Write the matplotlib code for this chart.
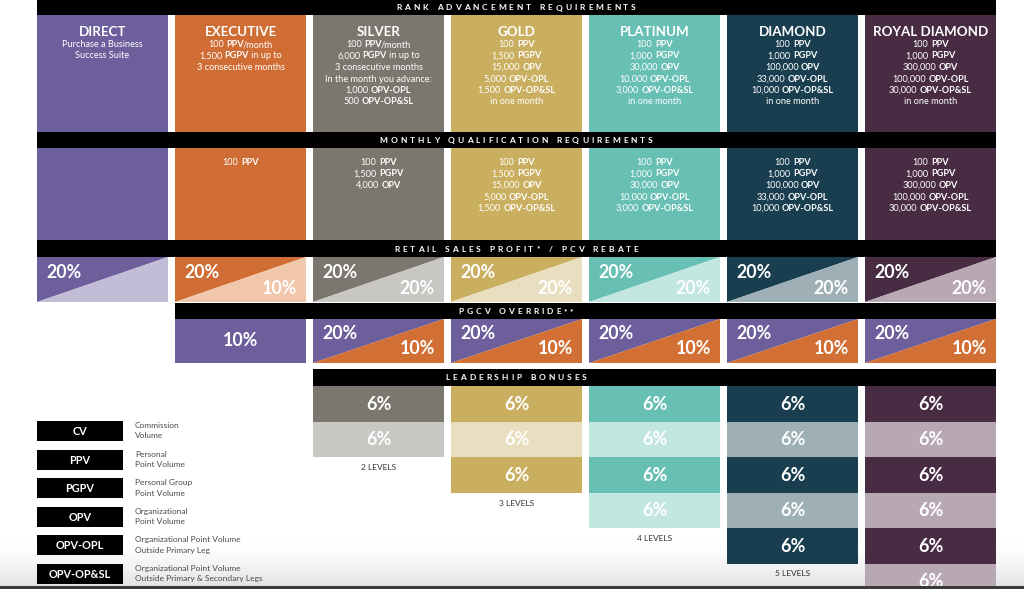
import re
import numpy as np
import matplotlib
matplotlib.use("Agg")
import matplotlib.pyplot as plt
from matplotlib.patches import Rectangle, Polygon

plt.rcParams['font.family'] = ['Lato', 'DejaVu Sans']

# ---------------- data ----------------
ranks = ["DIRECT", "EXECUTIVE", "SILVER", "GOLD", "PLATINUM", "DIAMOND", "ROYAL DIAMOND"]
dark_colors = ["#6C5F9C", "#D06D34", "#7B776F", "#C9AF5F", "#68BFB3", "#193E4F", "#482C43"]
light_colors = ["#C2BCD7", "#F0C7AA", "#C9C7C3", "#E9DFC0", "#C2E6E0", "#9EB0B6", "#B8A8B4"]
pgcv_top_color = "#6C5F9C"
pgcv_bottom_color = "#D26F35"

rank_requirements = [
    ["Purchase a Business", "Success Suite"],
    ["100 *PPV*/month", "1,500 *PGPV* in up to", "3 consecutive months"],
    ["100 *PPV*/month", "6,000 *PGPV* in up to", "3 consecutive months",
     "In the month you advance:", "1,000 *OPV-OPL*", "500 *OPV-OP&SL*"],
    ["100 *PPV*", "1,500 *PGPV*", "15,000 *OPV*", "5,000 *OPV-OPL*", "1,500 *OPV-OP&SL*", "in one month"],
    ["100 *PPV*", "1,000 *PGPV*", "30,000 *OPV*", "10,000 *OPV-OPL*", "3,000 *OPV-OP&SL*", "in one month"],
    ["100 *PPV*", "1,000 *PGPV*", "100,000 *OPV*", "33,000 *OPV-OPL*", "10,000 *OPV-OP&SL*", "in one month"],
    ["100 *PPV*", "1,000 *PGPV*", "300,000 *OPV*", "100,000 *OPV-OPL*", "30,000 *OPV-OP&SL*", "in one month"],
]
monthly_requirements = [
    [],
    ["100 *PPV*"],
    ["100 *PPV*", "1,500 *PGPV*", "4,000 *OPV*"],
    ["100 *PPV*", "1,500 *PGPV*", "15,000 *OPV*", "5,000 *OPV-OPL*", "1,500 *OPV-OP&SL*"],
    ["100 *PPV*", "1,000 *PGPV*", "30,000 *OPV*", "10,000 *OPV-OPL*", "3,000 *OPV-OP&SL*"],
    ["100 *PPV*", "1,000 *PGPV*", "100,000 *OPV*", "33,000 *OPV-OPL*", "10,000 *OPV-OP&SL*"],
    ["100 *PPV*", "1,000 *PGPV*", "300,000 *OPV*", "100,000 *OPV-OPL*", "30,000 *OPV-OP&SL*"],
]
retail_profit = [20, 20, 20, 20, 20, 20, 20]
pcv_rebate = [None, 10, 20, 20, 20, 20, 20]
pgcv_first = [None, 10, 20, 20, 20, 20, 20]
pgcv_second = [None, None, 10, 10, 10, 10, 10]
leadership_levels = [0, 0, 2, 3, 4, 5, 6]
leadership_pct = 6
level_labels = [None, None, "2 LEVELS", "3 LEVELS", "4 LEVELS", "5 LEVELS", None]

section_titles = ["RANK ADVANCEMENT REQUIREMENTS", "MONTHLY QUALIFICATION REQUIREMENTS",
                  "RETAIL SALES PROFIT* / PCV REBATE", "PGCV OVERRIDE**", "LEADERSHIP BONUSES"]

legend_abbr = ["CV", "PPV", "PGPV", "OPV", "OPV-OPL", "OPV-OP&SL"]
legend_desc = [("Commission", "Volume"), ("Personal", "Point Volume"),
               ("Personal Group", "Point Volume"), ("Organizational", "Point Volume"),
               ("Organizational Point Volume", "Outside Primary Leg"),
               ("Organizational Point Volume", "Outside Primary & Secondary Legs")]

# ---------------- layout ----------------
W, H = 1024, 589
X0, PITCH, COLW = 37, 138, 131
RIGHT = X0 + 6 * PITCH + COLW
PAGE_CX = 516

fig = plt.figure(figsize=(W / 100, H / 100), dpi=100)
ax = fig.add_axes([0, 0, 1, 1])
ax.set_xlim(0, W)
ax.set_ylim(H, 0)
ax.axis('off')
renderer = fig.canvas.get_renderer()

_cache = {}


def measure(s, size, weight):
    key = (s, size, weight)
    if key not in _cache:
        t = ax.text(0, 0, s, fontsize=size, fontweight=weight)
        _cache[key] = t.get_window_extent(renderer).width
        t.remove()
    return _cache[key]


def advance(s, size, weight):
    return measure("x" + s + "x", size, weight) - measure("xx", size, weight)


def col_x(i):
    return X0 + i * PITCH


def rich_line(xc, y, s, size, color='white'):
    parts = [p for p in re.split(r'(\*[^*]+\*)', s) if p]
    sp = advance(" ", size, 'normal')
    items = []
    total = 0
    for p in parts:
        bold = p.startswith('*')
        txt = p.strip('*')
        wgt = 'bold' if bold else 'normal'
        if txt.startswith(' '):
            total += sp
        core = txt.strip()
        if core:
            if core.startswith('/'):
                total -= 1.2
            items.append((total, core, wgt))
            total += advance(core, size, wgt)
        if txt.endswith(' '):
            total += sp
    x = xc - total / 2
    for off, txt, wgt in items:
        ax.text(x + off, y, txt, fontsize=size, fontweight=wgt, color=color,
                ha='left', va='center', zorder=4)


def tracked(xc, y, s, size, track, color='white', weight='bold'):
    widths = []
    for ch in s:
        if ch == ' ':
            widths.append(size * 0.5 + track)
        else:
            widths.append(advance(ch, size, weight) + track)
    total = sum(widths) - track
    x = xc - total / 2
    for ch, w in zip(s, widths):
        if ch != ' ':
            ax.text(x, y, ch, fontsize=size, color=color, ha='left', va='center',
                    fontweight=weight, zorder=4)
        x += w


def header(x1, y1, y2, title):
    ax.add_patch(Rectangle((x1, y1), RIGHT - x1, y2 - y1, color='black', lw=0, zorder=2))
    tracked(PAGE_CX, (y1 + y2) / 2 + 0.5, title, 6.0, 2.9)


# bottom screenshot fade (behind content)
grad = np.zeros((60, 2, 4))
a = np.linspace(0, 1, 60) ** 1.6
grad[..., :3] = 0.86
grad[..., 3] = (a * 0.8)[:, None]
ax.imshow(grad, extent=(0, W, 586, 540), aspect='auto', zorder=0, interpolation='bilinear')

# section 1: rank advancement
header(X0, 0, 15, section_titles[0])
for i, name in enumerate(ranks):
    x = col_x(i)
    ax.add_patch(Rectangle((x, 15), COLW, 117, color=dark_colors[i], lw=0, zorder=2))
    ax.text(x + COLW / 2, 32, name, fontsize=9.6, fontweight='bold', color='white',
            ha='center', va='center', zorder=4)
    for k, line in enumerate(rank_requirements[i]):
        rich_line(x + COLW / 2, 44.5 + 11.5 * k, line, 6.6)

# section 2: monthly qualification
header(X0, 132, 148, section_titles[1])
for i in range(len(ranks)):
    x = col_x(i)
    ax.add_patch(Rectangle((x, 148), COLW, 92, color=dark_colors[i], lw=0, zorder=2))
    for k, line in enumerate(monthly_requirements[i]):
        rich_line(x + COLW / 2, 162.5 + 11.5 * k, line, 6.6)

# section 3: retail profit / pcv rebate
header(X0, 240, 257, section_titles[2])
y1, y2 = 257, 302
for i in range(len(ranks)):
    x = col_x(i)
    ax.add_patch(Polygon([(x, y1), (x + COLW, y1), (x, y2)], closed=True,
                         color=dark_colors[i], lw=0, zorder=2))
    ax.add_patch(Polygon([(x + COLW, y1), (x + COLW, y2), (x, y2)], closed=True,
                         color=light_colors[i], lw=0, zorder=2))
    ax.text(x + 9, 272.5, f"{retail_profit[i]}%", fontsize=12.8, fontweight='bold',
            color='white', ha='left', va='center', zorder=4)
    if pcv_rebate[i] is not None:
        ax.text(x + COLW - 9, 289, f"{pcv_rebate[i]}%", fontsize=12.8, fontweight='bold',
                color='white', ha='right', va='center', zorder=4)

# section 4: PGCV override
header(col_x(1), 303, 319, section_titles[3])
y1, y2 = 319, 363
for i in range(len(ranks)):
    if pgcv_first[i] is None:
        continue
    x = col_x(i)
    if pgcv_second[i] is None:
        ax.add_patch(Rectangle((x, y1), COLW, y2 - y1, color=pgcv_top_color, lw=0, zorder=2))
        ax.text(x + COLW / 2, 340, f"{pgcv_first[i]}%", fontsize=12.8, fontweight='bold',
                color='white', ha='center', va='center', zorder=4)
    else:
        ax.add_patch(Polygon([(x, y1), (x + COLW, y1), (x, y2)], closed=True,
                             color=pgcv_top_color, lw=0, zorder=2))
        ax.add_patch(Polygon([(x + COLW, y1), (x + COLW, y2), (x, y2)], closed=True,
                             color=pgcv_bottom_color, lw=0, zorder=2))
        ax.text(x + 9, 333.5, f"{pgcv_first[i]}%", fontsize=12.8, fontweight='bold',
                color='white', ha='left', va='center', zorder=4)
        ax.text(x + COLW - 9, 349, f"{pgcv_second[i]}%", fontsize=12.8, fontweight='bold',
                color='white', ha='right', va='center', zorder=4)

# section 5: leadership bonuses
header(col_x(2), 369, 386, section_titles[4])
ROW = 35.5
for i in range(len(ranks)):
    n = leadership_levels[i]
    x = col_x(i)
    for r in range(n):
        top = 386 + r * ROW
        c = dark_colors[i] if r % 2 == 0 else light_colors[i]
        ax.add_patch(Rectangle((x, top), COLW, ROW, color=c, lw=0, zorder=2))
        ax.text(x + COLW / 2, top + ROW / 2 + 0.5, f"{leadership_pct}%", fontsize=13,
                fontweight='bold', color='white', ha='center', va='center', zorder=4)
    if level_labels[i]:
        ax.text(x + COLW / 2, 386 + n * ROW + 10.5, level_labels[i], fontsize=6,
                color='#333333', ha='center', va='center', zorder=4)

# legend
for k, (ab, (d1, d2)) in enumerate(zip(legend_abbr, legend_desc)):
    top = 421 + k * 28.6
    ax.add_patch(Rectangle((X0, top), 86, 20, color='black', lw=0, zorder=2))
    ax.text(X0 + 43, top + 10.5, ab, fontsize=7.8, fontweight='bold', color='white',
            ha='center', va='center', zorder=4)
    ax.text(135, top + 4.5, d1, fontsize=6.0, color='#4a4a4a', ha='left', va='center', zorder=4)
    ax.text(135, top + 15, d2, fontsize=6.0, color='#4a4a4a', ha='left', va='center', zorder=4)

ax.add_patch(Rectangle((0, 586), W, 3, color='#3a3a3a', lw=0, zorder=6))
ax.set_xlim(0, W)
ax.set_ylim(H, 0)

fig.savefig("out.png", dpi=100)
